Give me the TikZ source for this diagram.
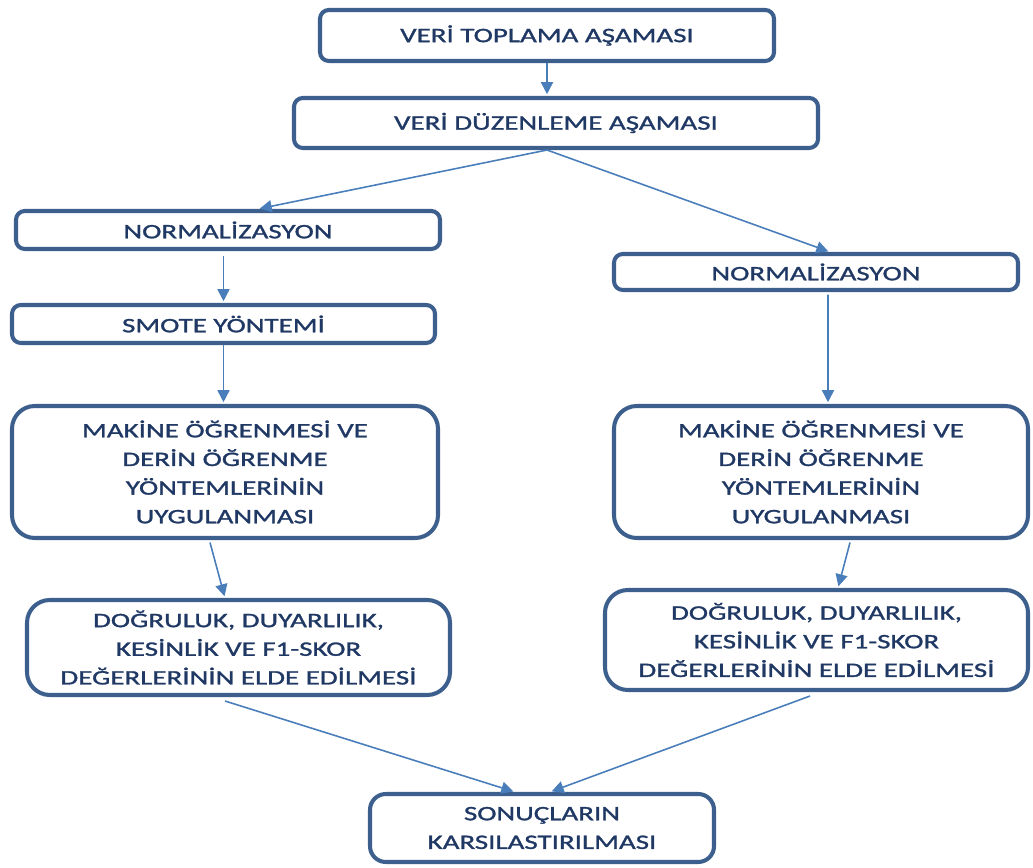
\documentclass[tikz,border=0pt]{standalone}
\usepackage{fontspec}
\setmainfont[FakeStretch=1.41,FakeBold=1.3]{Carlito}
\usetikzlibrary{arrows.meta}
\definecolor{kenar}{HTML}{3C5F8E}
\definecolor{yazi}{HTML}{1F3864}
\definecolor{ok}{HTML}{4A7EBB}
\tikzset{
	kutu/.style={draw=kenar,line width=2.3pt,rounded corners=5pt,fill=white,
		text=yazi,align=center,font=\fontsize{11.7}{16.3}\selectfont,inner sep=0pt},
	buyukkutu/.style={kutu,rounded corners=13pt},
	akis/.style={draw=ok,line width=0.9pt,-{Triangle[length=2.4mm,width=2.4mm]},shorten >=1pt}
}
\begin{document}
\begin{tikzpicture}
			\useasboundingbox (0,0) rectangle (20.66,17.34);

			% Ust kutular
			\node[kutu,minimum width=9.08cm,minimum height=1.02cm] (toplama) at (10.94,16.63) {VERİ TOPLAMA AŞAMASI};
			\node[kutu,minimum width=10.48cm,minimum height=1.0cm] (duzen) at (11.12,14.88) {VERİ DÜZENLEME AŞAMASI};

			% Sol kol
			\node[kutu,minimum width=8.48cm,minimum height=0.76cm] (normL) at (4.56,12.74) {NORMALİZASYON};
			\node[kutu,minimum width=8.46cm,minimum height=0.76cm] (smote) at (4.47,10.86) {SMOTE YÖNTEMİ};
			\node[buyukkutu,minimum width=8.52cm,minimum height=2.64cm] (makL) at (4.50,7.90)
				{MAKİNE ÖĞRENMESİ VE\\DERİN ÖĞRENME\\YÖNTEMLERİNİN\\UYGULANMASI};
			\node[buyukkutu,minimum width=8.46cm,minimum height=1.90cm] (dogL) at (4.77,4.39)
				{DOĞRULUK, DUYARLILIK,\\KESİNLİK VE F1-SKOR\\DEĞERLERİNİN ELDE EDİLMESİ};

			% Sag kol
			\node[kutu,minimum width=8.08cm,minimum height=0.72cm] (normR) at (16.32,11.90) {NORMALİZASYON};
			\node[buyukkutu,minimum width=8.28cm,minimum height=2.64cm] (makR) at (16.42,7.90)
				{MAKİNE ÖĞRENMESİ VE\\DERİN ÖĞRENME\\YÖNTEMLERİNİN\\UYGULANMASI};
			\node[buyukkutu,minimum width=8.46cm,minimum height=2.00cm] (dogR) at (16.33,4.54)
				{DOĞRULUK, DUYARLILIK,\\KESİNLİK VE F1-SKOR\\DEĞERLERİNİN ELDE EDİLMESİ};

			% Sonuc
			\node[buyukkutu,rounded corners=9pt,minimum width=6.88cm,minimum height=1.36cm] (sonuc) at (10.84,0.78)
				{SONUÇLARIN\\KARSILASTIRILMASI};

			% Oklar
			\coordinate (ayrim) at (toplama.south |- duzen.south);
			\draw[akis] (toplama.south) -- (toplama.south |- duzen.north);
			\draw[akis] (ayrim) -- ([xshift=0.6cm]normL.north);
			\draw[akis] (ayrim) -- ([xshift=0.28cm]normR.north);
			\draw[akis] ([yshift=-0.1cm]smote.north |- normL.south) -- (smote.north);
			\draw[akis] (smote.south) -- (smote.south |- makL.north);
			\draw[akis] ([xshift=-0.3cm,yshift=-0.05cm]makL.south) -- ([xshift=-0.27cm]dogL.north);
			\draw[akis] ([xshift=0.24cm,yshift=-0.05cm]normR.south) -- ([xshift=0.14cm]makR.north);
			\draw[akis] ([xshift=0.58cm,yshift=-0.05cm]makR.south) -- ([xshift=0.43cm]dogR.north);
			\draw[akis] ([xshift=-0.27cm,yshift=-0.08cm]dogL.south) -- ([xshift=-0.54cm]sonuc.north);
			\draw[akis] ([xshift=-0.13cm,yshift=-0.08cm]dogR.south) -- ([xshift=0.16cm]sonuc.north);
		\end{tikzpicture}
\end{document}
